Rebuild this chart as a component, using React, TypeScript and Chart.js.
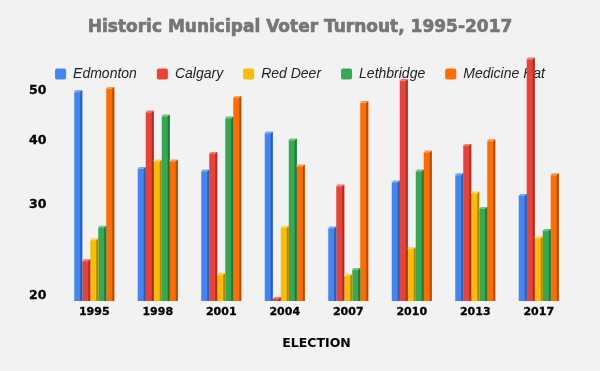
import React, { useEffect, useRef } from 'react';
import { Chart, registerables } from 'chart.js';

Chart.register(...registerables);

// ---- data ----
const categories = ['1995', '1998', '2001', '2004', '2007', '2010', '2013', '2017'];
const seriesNames = ['Edmonton', 'Calgary', 'Red Deer', 'Lethbridge', 'Medicine Hat'];
const edmonton = [50.1, 35.5, 35.1, 41.6, 27.2, 33.4, 34.5, 31.5];
const calgary = [23.5, 45.7, 38.0, 19.85, 32.8, 52.6, 39.4, 57.9];
const redDeer = [25.8, 36.7, 22.1, 27.3, 22.0, 24.8, 31.8, 26.0];
const lethbridge = [27.3, 44.9, 44.5, 40.3, 22.6, 35.1, 29.7, 26.9];
const medicineHat = [50.8, 36.7, 48.8, 35.9, 47.7, 38.2, 40.2, 34.5];
const yTickValues = [20, 30, 40, 50];
const chartTitle = 'Historic Municipal Voter Turnout, 1995-2017';
const xAxisTitle = 'ELECTION';

// ---- styles ----
const frontColors = ['#4285F4', '#EA4335', '#FBBC04', '#34A853', '#FF6D01'];
const sideColors = ['#2c5db0', '#a8302a', '#b08405', '#237638', '#b34c02'];
const topColors = ['#7aa9f7', '#f07b71', '#fdd45a', '#6cc383', '#ff9a50'];
const BG = '#f2f2f2';

const bgPlugin = {
  id: 'bgPlugin',
  beforeDraw(chart: any) {
    const ctx = chart.ctx;
    ctx.save();
    ctx.fillStyle = BG;
    ctx.fillRect(0, 0, chart.width, chart.height);
    ctx.restore();
  },
};

const bar3dPlugin = {
  id: 'bar3d',
  afterDatasetsDraw(chart: any) {
    const ctx = chart.ctx;
    ctx.save();
    chart.data.datasets.forEach((_ds: any, i: number) => {
      const meta = chart.getDatasetMeta(i);
      if (meta.hidden) return;
      meta.data.forEach((el: any) => {
        const p = el.getProps(['x', 'y', 'base', 'width'], true);
        const left = p.x - p.width / 2;
        const right = p.x + p.width / 2;
        const top = Math.min(p.y, p.base);
        const bottom = Math.max(p.y, p.base);
        const d = Math.min(2, (bottom - top) / 2);
        // corner triangle (background)
        ctx.fillStyle = BG;
        ctx.beginPath();
        ctx.moveTo(left, top);
        ctx.lineTo(left + d, top);
        ctx.lineTo(left, top + d);
        ctx.closePath();
        ctx.fill();
        // top face
        ctx.fillStyle = topColors[i];
        ctx.beginPath();
        ctx.moveTo(left, top + d);
        ctx.lineTo(left + d, top);
        ctx.lineTo(right, top);
        ctx.lineTo(right - d, top + d);
        ctx.closePath();
        ctx.fill();
        // side face
        ctx.fillStyle = sideColors[i];
        ctx.beginPath();
        ctx.moveTo(right - d, top + d);
        ctx.lineTo(right, top);
        ctx.lineTo(right, bottom);
        ctx.lineTo(right - d, bottom);
        ctx.closePath();
        ctx.fill();
      });
    });
    ctx.restore();
  },
};

const titleStrokePlugin = {
  id: 'titleStroke',
  afterDraw(chart: any) {
    const tb = chart.titleBlock;
    if (!tb) return;
    const ctx = chart.ctx;
    ctx.save();
    ctx.font = 'bold 17px "DejaVu Sans"';
    ctx.textAlign = 'center';
    ctx.textBaseline = 'middle';
    ctx.strokeStyle = '#707070';
    ctx.lineWidth = 0.6;
    ctx.strokeText(chartTitle, (tb.left + tb.right) / 2, tb.top + 17 + 10.2);
    ctx.restore();
  },
};

export default function App() {
  const canvasRef = useRef<HTMLCanvasElement | null>(null);

  useEffect(() => {
    document.body.style.margin = '0';
    document.body.style.background = BG;
    const canvas = canvasRef.current;
    if (!canvas) return;
    const seriesValues = [edmonton, calgary, redDeer, lethbridge, medicineHat];
    const chart = new Chart(canvas, {
      type: 'bar',
      data: {
        labels: categories,
        datasets: seriesNames.map((name, i) => ({
          label: name,
          data: seriesValues[i],
          backgroundColor: frontColors[i],
          borderWidth: 0,
          clip: false as any,
          categoryPercentage: 0.63,
          barPercentage: 1.0,
          yAxisID: 'y',
        })),
      },
      options: {
        responsive: false,
        animation: false,
        devicePixelRatio: 1,
        layout: { padding: { left: 0, right: 0, top: 0, bottom: 0 } },
        plugins: {
          title: {
            display: true,
            text: chartTitle,
            color: '#777777',
            font: { family: 'DejaVu Sans', weight: 'bold', size: 17, lineHeight: 1.2 },
            padding: { top: 17, bottom: 9.6 },
          },
          legend: {
            position: 'top',
            align: 'center',
            maxHeight: 34,
            labels: {
              boxWidth: 11,
              boxHeight: 11,
              padding: 20,
              color: '#222222',
              useBorderRadius: true,
              borderRadius: 2,
              font: { family: 'Liberation Sans', style: 'italic', size: 14 },
            },
          },
          tooltip: { enabled: false },
        },
        scales: {
          x: {
            type: 'category',
            offset: true,
            grid: { display: false, drawTicks: false },
            border: { display: false },
            ticks: {
              color: '#000',
              padding: 5,
              maxRotation: 0,
              font: { family: 'DejaVu Sans', weight: 'bold', size: 11 },
              textStrokeColor: '#000',
              textStrokeWidth: 0.3,
            } as any,
            title: {
              display: true,
              text: xAxisTitle,
              color: '#000',
              font: { family: 'DejaVu Sans', weight: 'bold', size: 12.5 },
              padding: { top: 0, bottom: 20 },
            },
            afterFit: (s: any) => {
              s.height = 70;
            },
          },
          y: {
            type: 'logarithmic',
            position: 'left',
            min: 19.51,
            max: 52.2,
            grid: { display: false, drawTicks: false },
            border: { display: false },
            ticks: {
              color: '#000',
              padding: 16,
              font: { family: 'DejaVu Sans', weight: 'bold', size: 12.5 },
              textStrokeColor: '#000',
              textStrokeWidth: 0.3,
              callback: (v: any) => String(v),
            } as any,
            afterBuildTicks: (s: any) => {
              s.ticks = yTickValues.map((v) => ({ value: v }));
            },
            afterFit: (s: any) => {
              s.width = 62.5;
            },
          },
          yRight: {
            type: 'linear',
            position: 'right',
            display: true,
            grid: { display: false, drawTicks: false },
            border: { display: false },
            ticks: { display: false },
            afterFit: (s: any) => {
              s.width = 29.5;
            },
          },
        },
      } as any,
      plugins: [bgPlugin, bar3dPlugin, titleStrokePlugin],
    });
    return () => chart.destroy();
  }, []);

  return (
    <div style={{ width: 600, height: 371 }}>
      <canvas ref={canvasRef} width={600} height={371} style={{ display: 'block' }} />
    </div>
  );
}
